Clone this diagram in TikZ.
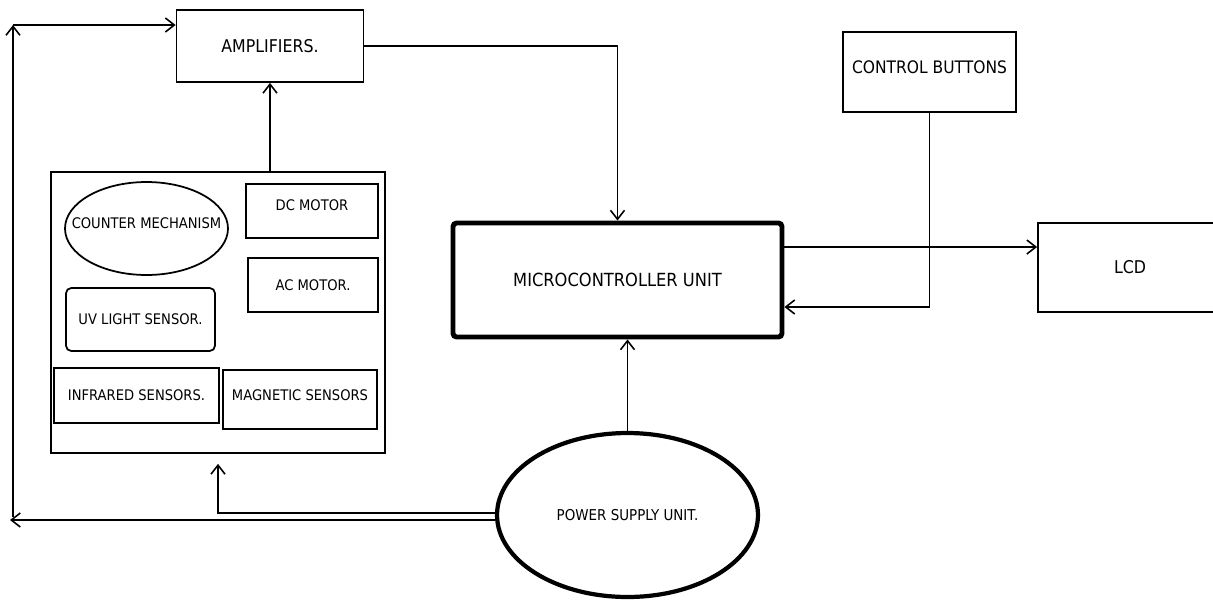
\documentclass[tikz,border=0pt]{standalone}
\usepackage{fontspec}
\setmainfont{DejaVu Sans}[FakeStretch=0.9]
\usetikzlibrary{arrows.meta,shapes.geometric}
\begin{document}
\begin{tikzpicture}[x=0.02cm,y=-0.02cm,>={Straight Barb[length=1.8mm,width=2.8mm]},
  every node/.style={inner sep=0pt,font=\fontsize{10}{12}\selectfont},
  small/.style={font=\fontsize{8.3}{10}\selectfont},
  lift/.style={text depth=#1},
  blk/.style={draw,line width=1pt,minimum width=#1},
  oval/.style={draw,ellipse,line width=1pt,inner xsep=-1cm},
  wire/.style={line width=0.9pt}]

  \useasboundingbox (0,0) rectangle (1213,599);

  \node[blk=3.74cm,minimum height=1.44cm] (amp) at (270,46) {AMPLIFIERS.};
  \node[blk=3.46cm,minimum height=1.6cm,lift=0.2cm,font=\fontsize{9.8}{12}\selectfont] (ctrl) at (929.5,72) {CONTROL BUTTONS};
  \node[blk=6.58cm,minimum height=2.28cm,line width=2.8pt,rounded corners=2pt,font=\fontsize{10.3}{12}\selectfont] (mcu) at (617.5,280) {MICROCONTROLLER UNIT};
  \node[blk=3.68cm,minimum height=1.78cm] (lcd) at (1130,267.5) {LCD};
  \node[blk=6.68cm,minimum height=5.62cm] (sys) at (218,312.5) {};

  \node[oval,small,lift=0.22cm,minimum width=3.26cm,minimum height=1.86cm] (cnt) at (146.5,228.5) {COUNTER MECHANISM};
  \node[blk=2.64cm,small,lift=0.24cm,minimum height=1.08cm] (dcm) at (312,211) {DC MOTOR};
  \node[blk=2.6cm,small,minimum height=1.08cm] (acm) at (313,285) {AC MOTOR.};
  \node[blk=2.98cm,small,minimum height=1.26cm,rounded corners=3pt] (uv) at (140.5,319.5) {UV LIGHT SENSOR.};
  \node[blk=3.3cm,small,minimum height=1.1cm] (ir) at (136.5,395.5) {INFRARED SENSORS.};
  \node[blk=3.08cm,small,lift=0.16cm,minimum height=1.18cm] (mag) at (300,399.5) {MAGNETIC SENSORS};

  \node[oval,line width=2.4pt,minimum width=5.22cm,minimum height=3.28cm,font=\fontsize{8.5}{10}\selectfont] (psu) at (627.5,515) {POWER SUPPLY UNIT.};

  \coordinate (tap) at ([yshift=-0.2cm]sys.south);
  \coordinate (lft) at (10,520);
  \coordinate (lb) at (13,517);
  \coordinate (lt) at (13,25);

  \draw[wire,->] (amp.east) -| (mcu.north);
  \draw[wire,->] (amp.south |- sys.north) -- (amp.south);
  \draw[wire,->] (psu.north) -- (psu.north |- mcu.south);
  \draw[wire,->] ([yshift=0.66cm]mcu.east) coordinate (m1) -- (m1 -| lcd.west);
  \draw[wire,->] (ctrl.south) |- ([yshift=-0.54cm]mcu.east);
  \draw[wire,->] ([yshift=0.04cm]psu.west) -| (tap);
  \draw[wire,->] ([yshift=-0.1cm]psu.west) -- (lft);
  \draw[wire,->] (lb) -- (lt);
  \draw[wire,->] (lt) -- (lt -| amp.west);

\end{tikzpicture}
\end{document}
